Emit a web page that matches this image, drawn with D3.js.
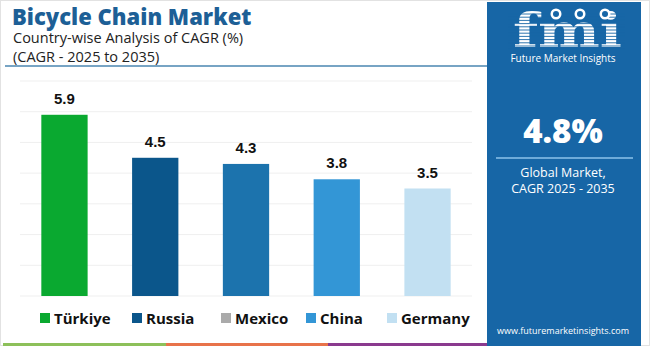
<!DOCTYPE html>
<html><head><meta charset="utf-8">
<script src="https://cdn.jsdelivr.net/npm/d3@7"></script>
<style>body{margin:0;background:#fff}svg{display:block}</style>
</head><body>
<svg id="c" width="650" height="346"></svg>
<script>
const categories = ["Türkiye","Russia","Mexico","China","Germany"];
const values = [5.9,4.5,4.3,3.8,3.5];
const barColors = ["#0aa930","#0b568b","#1c73ad","#3396d6","#c2e0f2"];
const legendColors = ["#0aa930","#0b568b","#aaaaaa","#3396d6","#c2e0f2"];
const gridTicks = [0,1,2,3,4,5,6,7];
const title = "Bicycle Chain Market";
const subtitle1 = "Country-wise Analysis of CAGR (%)";
const subtitle2 = "(CAGR - 2025 to 2035)";
const globalValue = "4.8%";

const svg = d3.select("#c");
const font = "'Open Sans', 'DejaVu Sans', sans-serif";

// outer border
svg.append("rect").attr("x",0.5).attr("y",0.5).attr("width",649).attr("height",345)
  .attr("fill","#fff").attr("stroke","#e2e2e2");

// titles
svg.append("text").attr("x",12).attr("y",25).text(title)
  .attr("font-family",font).attr("font-weight",800).attr("font-size",22).attr("fill","#1d5f96");
svg.append("text").attr("x",13).attr("y",43).text(subtitle1)
  .attr("font-family",font).attr("font-size",14.5).attr("fill","#222");
svg.append("text").attr("x",13).attr("y",62).text(subtitle2)
  .attr("font-family",font).attr("font-size",14.5).attr("fill","#222");
svg.append("line").attr("x1",5).attr("x2",487).attr("y1",66).attr("y2",66)
  .attr("stroke","#4a86b0").attr("stroke-width",1.5);

// scales
const x = d3.scaleBand().domain(categories).range([20,472]).paddingInner(0.49).paddingOuter(0.235);
const y = d3.scaleLinear().domain([0,7]).range([296,81]);

// grid
svg.append("g").selectAll("line").data(gridTicks).join("line")
  .attr("x1",20).attr("x2",472).attr("y1",d=>y(d)).attr("y2",d=>y(d))
  .attr("stroke","#efefef").attr("stroke-width",1);

// bars
svg.append("g").selectAll("rect").data(values).join("rect")
  .attr("x",(d,i)=>x(categories[i])).attr("width",x.bandwidth())
  .attr("y",d=>y(d)).attr("height",d=>y(0)-y(d))
  .attr("fill",(d,i)=>barColors[i]);

// value labels
svg.append("g").selectAll("text").data(values).join("text")
  .attr("x",(d,i)=>x(categories[i])+x.bandwidth()/2).attr("y",d=>y(d)-11)
  .attr("text-anchor","middle").attr("font-family","'Liberation Sans', Arial, sans-serif")
  .attr("font-weight",700).attr("font-size",15).attr("fill","#111")
  .text(d=>d.toFixed(1));

// legend
const legendX = [40,132,221,306,387];
const lg = svg.append("g").selectAll("g").data(categories).join("g")
  .attr("transform",(d,i)=>`translate(${legendX[i]},318)`);
lg.append("rect").attr("x",0).attr("y",-5).attr("width",10).attr("height",10)
  .attr("fill",(d,i)=>legendColors[i]);
lg.append("text").attr("x",14).attr("y",5.5).text(d=>d)
  .attr("font-family",font).attr("font-weight",700).attr("font-size",15).attr("fill","#111");

// bottom strip
const strip = [[3,166,"#8dc05a"],[166,328,"#e8734a"],[328,490,"#8a3a8e"]];
svg.append("g").selectAll("rect").data(strip).join("rect")
  .attr("x",d=>d[0]).attr("width",d=>d[1]-d[0]).attr("y",343).attr("height",3).attr("fill",d=>d[2]);

// right panel
const px = 487, pw = 154, cx = px + pw/2;
svg.append("rect").attr("x",px).attr("y",2).attr("width",pw).attr("height",344).attr("fill","#1766a6");

// logo
const logo = svg.append("g");
logo.append("text").attr("x",513).attr("y",47)
  .attr("font-family","'DejaVu Serif', serif").attr("font-weight",700).attr("font-size",46)
  .attr("fill","#fff").attr("textLength",109).attr("lengthAdjust","spacingAndGlyphs").text("fmi");
for (let yy=14; yy<50; yy+=3.2) {
  logo.append("line").attr("x1",508).attr("x2",625).attr("y1",yy).attr("y2",yy)
    .attr("stroke","#1766a6").attr("stroke-width",0.9);
}
[556,580,605].forEach(cxx=>{
  logo.append("circle").attr("cx",cxx).attr("cy",14).attr("r",5.5).attr("fill","#fff");
  logo.append("circle").attr("cx",cxx).attr("cy",14).attr("r",3).attr("fill","#1766a6");
});
svg.append("text").attr("x",cx-1).attr("y",62).attr("text-anchor","middle")
  .attr("font-family",font).attr("font-size",10).attr("fill","#fff").text("Future Market Insights");

svg.append("text").attr("x",cx-1).attr("y",143).attr("text-anchor","middle")
  .attr("font-family",font).attr("font-weight",800).attr("font-size",33).attr("fill","#fff").text(globalValue);
svg.append("line").attr("x1",496).attr("x2",633).attr("y1",158).attr("y2",158)
  .attr("stroke","#8cc3ea").attr("stroke-width",1.5);
svg.append("text").attr("x",cx-1).attr("y",177).attr("text-anchor","middle")
  .attr("font-family",font).attr("font-size",12.5).attr("fill","#fff").text("Global Market,");
svg.append("text").attr("x",cx-1).attr("y",193).attr("text-anchor","middle")
  .attr("font-family",font).attr("font-size",12.5).attr("fill","#fff").text("CAGR 2025 - 2035");
svg.append("text").attr("x",cx-1).attr("y",334).attr("text-anchor","middle")
  .attr("font-family",font).attr("font-size",9).attr("fill","#fff").text("www.futuremarketinsights.com");
</script>
</body></html>
